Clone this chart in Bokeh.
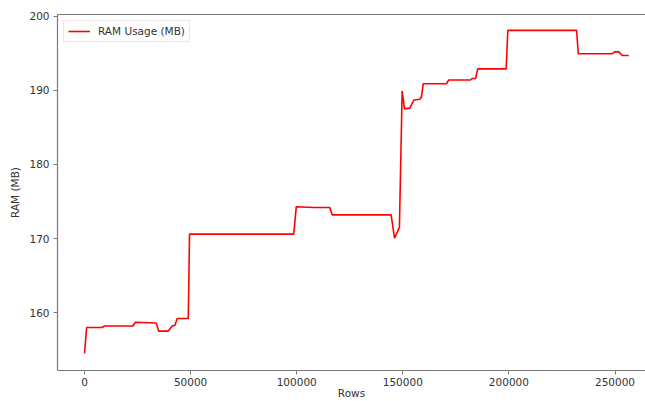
from bokeh.plotting import figure
from bokeh.models import Range1d, FixedTicker, LinearAxis, BasicTickFormatter
from bokeh.embed import file_html
from bokeh.resources import INLINE

# Data
rows = [0, 1000, 8300, 9400, 22800, 24000, 33800, 35000, 39400, 41300, 42600,
        43700, 48900, 49500, 98600, 99800, 108000, 115600, 116700, 144500,
        146100, 148400, 149700, 150800, 153300, 155200, 158000, 158800, 159600,
        170500, 171700, 181900, 182700, 184300, 185300, 198700, 199500, 231900,
        232700, 248700, 249800, 251800, 253400, 256500]
ram_mb = [154.5, 158.0, 158.0, 158.2, 158.2, 158.7, 158.6, 157.5, 157.5, 158.2,
          158.3, 159.2, 159.2, 170.6, 170.6, 174.3, 174.2, 174.2, 173.2, 173.2,
          170.05, 171.5, 189.9, 187.5, 187.6, 188.7, 188.8, 189.1, 190.9, 190.9,
          191.4, 191.4, 191.6, 191.6, 192.9, 192.9, 198.1, 198.1, 194.95, 194.95,
          195.2, 195.2, 194.7, 194.7]
x_ticks = [0, 50000, 100000, 150000, 200000, 250000]
y_ticks = [160, 170, 180, 190, 200]
series_name = "RAM Usage (MB)"
x_title = "Rows"
y_title = "RAM (MB)"

FONT = "DejaVu Sans"
FONT_SIZE = "10.5px"
AXIS_COLOR = "#7a7a7a"
TEXT_COLOR = "#333333"

x_start, x_end = -12724, 264370
y_start, y_end = 152.19, 200.24

p = figure(width=645, height=401, output_backend="svg", toolbar_location=None,
           x_range=Range1d(x_start, x_end), y_range=Range1d(y_start, y_end),
           min_border_left=57, min_border_right=0, min_border_top=14,
           min_border_bottom=30)
p.xgrid.visible = False
p.ygrid.visible = False
p.outline_line_color = None
p.background_fill_color = "white"
p.border_fill_color = "white"

p.line(rows, ram_mb, color="#ff0000", line_width=1.6, legend_label=series_name)

for ax in (p.xaxis[0], p.yaxis[0]):
    ax.axis_line_color = AXIS_COLOR
    ax.axis_line_width = 1.2
    ax.major_tick_line_color = AXIS_COLOR
    ax.major_tick_line_width = 1
    ax.major_tick_in = 0
    ax.major_tick_out = 4
    ax.minor_tick_line_color = None
    ax.major_label_text_font = FONT
    ax.major_label_text_font_size = FONT_SIZE
    ax.major_label_text_color = TEXT_COLOR
    ax.axis_label_text_font = FONT
    ax.axis_label_text_font_size = FONT_SIZE
    ax.axis_label_text_font_style = "normal"
    ax.axis_label_text_color = TEXT_COLOR

p.xaxis[0].ticker = FixedTicker(ticks=x_ticks)
p.xaxis[0].formatter = BasicTickFormatter(use_scientific=False)
p.xaxis[0].major_label_standoff = 3
p.xaxis[0].axis_label = x_title
p.xaxis[0].axis_label_standoff = -2

p.yaxis[0].ticker = FixedTicker(ticks=y_ticks)
p.yaxis[0].major_label_standoff = 4
p.yaxis[0].axis_label = y_title
p.yaxis[0].axis_label_standoff = 5

top = LinearAxis(ticker=FixedTicker(ticks=[]), axis_line_color=AXIS_COLOR,
                 axis_line_width=1.2, major_tick_line_color=None,
                 minor_tick_line_color=None, major_tick_out=0, major_tick_in=0,
                 major_label_text_font_size="0px")
p.add_layout(top, "above")

lg = p.legend[0]
lg.location = "top_left"
lg.margin = 6
lg.padding = 4
lg.spacing = 0
lg.glyph_width = 22
lg.glyph_height = 10
lg.label_height = 10
lg.label_standoff = 8
lg.label_text_font = FONT
lg.label_text_font_size = FONT_SIZE
lg.label_text_color = TEXT_COLOR
lg.border_line_color = "#d0d0d0"
lg.border_line_width = 1
lg.background_fill_alpha = 0.8

open("out.html", "w").write(file_html(p, INLINE))
